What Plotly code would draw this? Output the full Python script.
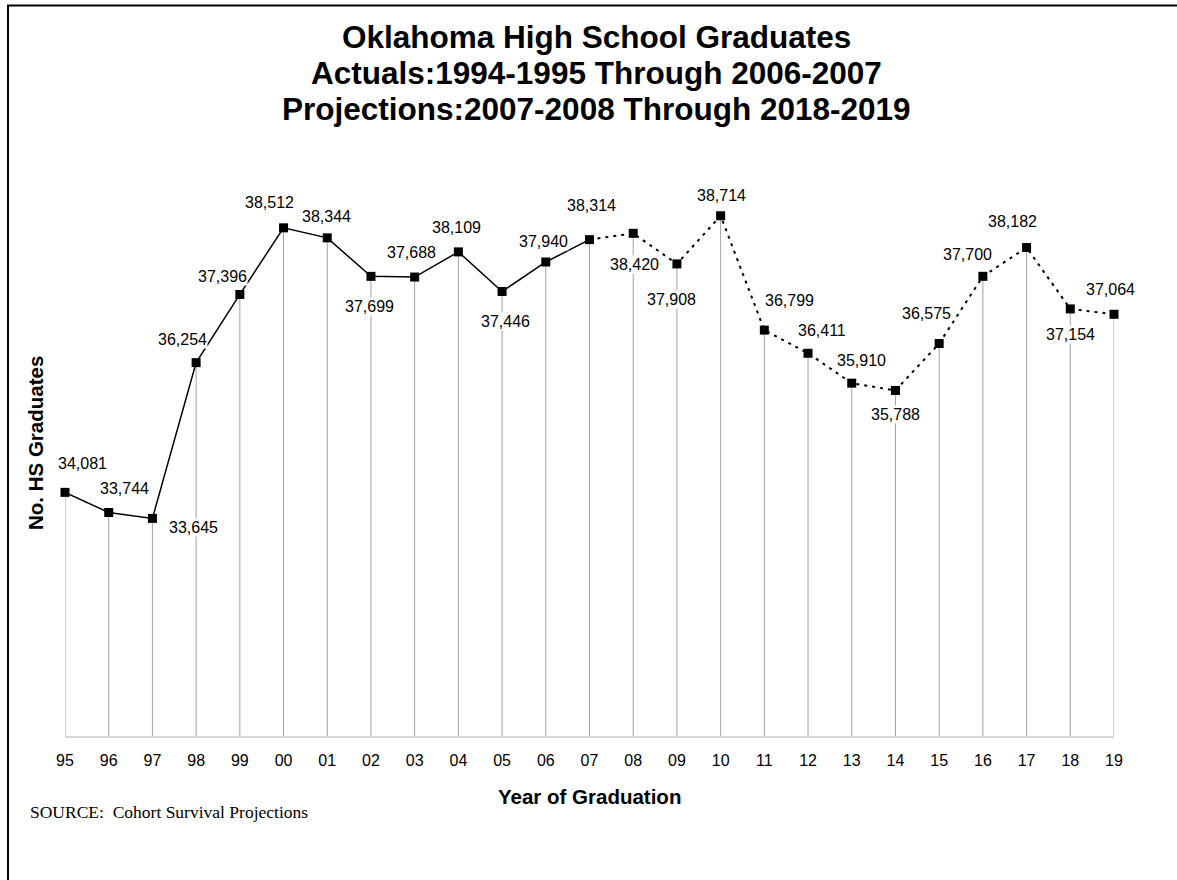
import plotly.graph_objects as go

# Graduating class (two-digit year) and number of high school graduates
years = ["95", "96", "97", "98", "99", "00", "01", "02", "03", "04", "05", "06", "07",
         "08", "09", "10", "11", "12", "13", "14", "15", "16", "17", "18", "19"]
graduates = [34081, 33744, 33645, 36254, 37396, 38512, 38344, 37699, 37688, 38109,
             37446, 37940, 38314, 38420, 37908, 38714, 36799, 36411, 35910, 35788,
             36575, 37700, 38182, 37154, 37064]
last_actual = "07"  # actuals run through 2006-2007, projections after

# Pixel offsets of each value label from its point (dx, dy)
label_offsets = [(17, 29), (16, 24), (41, -9), (-14, 23), (-17, 18), (-14, 25),
                 (-1, 21), (-1, -30), (-3, 25), (-2, 24), (3, -30), (-2, 20),
                 (2, 34), (1, -31), (-5, -36), (1, 20), (25, 30), (14, 23),
                 (10, 23), (0, -24), (-13, 30), (-15, 22), (-14, 26), (0, -26),
                 (-4, 25)]

Y_MIN, Y_MAX = 30000, 40000
split = years.index(last_actual)

# plot area in pixels
L, R, T, B = 65, 63, 139, 144
W, H = 1177, 880
pw, ph = W - L - R, H - T - B


def px_x(p):
    return (p - L) / pw


def px_y(p):
    return (H - B - p) / ph


fig = go.Figure()

# drop lines from the axis up to each point
dx, dy = [], []
for yr, v in zip(years, graduates):
    dx += [yr, yr, None]
    dy += [Y_MIN, v, None]
fig.add_trace(go.Scatter(x=dx, y=dy, mode="lines",
                         line=dict(color="#a3a3a3", width=1),
                         hoverinfo="skip", showlegend=False))

# actuals: solid line
fig.add_trace(go.Scatter(x=years[:split + 1], y=graduates[:split + 1],
                         mode="lines", line=dict(color="black", width=1.5),
                         showlegend=False, cliponaxis=False))
# projections: dotted line
fig.add_trace(go.Scatter(x=years[split:], y=graduates[split:],
                         mode="lines", line=dict(color="black", width=2, dash="3px,5px"),
                         showlegend=False, cliponaxis=False))
# markers
fig.add_trace(go.Scatter(x=years, y=graduates, mode="markers",
                         marker=dict(symbol="square", size=9, color="black"),
                         showlegend=False, cliponaxis=False))

annotations = []
# value labels (category axis: position given by category index)
for i, (v, (ox, oy)) in enumerate(zip(graduates, label_offsets)):
    annotations.append(dict(x=i, y=v, xref="x", yref="y", text=f"{v:,}",
                            showarrow=False, xshift=ox, yshift=oy,
                            font=dict(family="Arial, Liberation Sans", size=16, color="black"),
                            bgcolor="white", borderpad=0))

title_lines = ["Oklahoma High School Graduates",
               "Actuals:1994-1995 Through 2006-2007",
               "Projections:2007-2008 Through 2018-2019"]
for line, yc in zip(title_lines, [37, 73, 109]):
    annotations.append(dict(x=px_x(596), y=px_y(yc), xref="paper", yref="paper",
                            text=f"<b>{line}</b>", showarrow=False,
                            xanchor="center", yanchor="middle",
                            font=dict(family="Arial, Liberation Sans", size=31.5, color="black")))

annotations.append(dict(x=px_x(589), y=px_y(796), xref="paper", yref="paper",
                        text="<b>Year of Graduation</b>", showarrow=False,
                        xanchor="center", yanchor="middle",
                        font=dict(family="Arial, Liberation Sans", size=20.5, color="black")))
annotations.append(dict(x=px_x(35), y=px_y(443), xref="paper", yref="paper",
                        text="<b>No. HS Graduates</b>", showarrow=False, textangle=-90,
                        xanchor="center", yanchor="middle",
                        font=dict(family="Arial, Liberation Sans", size=20.5, color="black")))
annotations.append(dict(x=px_x(28), y=px_y(812), xref="paper", yref="paper",
                        text="SOURCE:  Cohort Survival Projections", showarrow=False,
                        xanchor="left", yanchor="middle",
                        font=dict(family="Liberation Serif, Times New Roman", size=17.5, color="black")))

fig.update_layout(
    width=W, height=H,
    margin=dict(l=L, r=R, t=T, b=B),
    paper_bgcolor="white", plot_bgcolor="white",
    annotations=annotations,
    shapes=[dict(type="rect", xref="paper", yref="paper",
                 x0=px_x(8), x1=px_x(1190), y0=px_y(895), y1=px_y(5.5),
                 line=dict(color="black", width=2), layer="below")],
    xaxis=dict(type="category", range=[0, len(years) - 1], showgrid=False,
               showline=True, linecolor="#d6d6d6", linewidth=2,
               ticks="outside", ticklen=9, tickcolor="rgba(0,0,0,0)",
               tickfont=dict(family="Arial, Liberation Sans", size=16, color="black"),
               zeroline=False, fixedrange=True),
    yaxis=dict(range=[Y_MIN, Y_MAX], showgrid=False, showline=False, zeroline=False,
               showticklabels=False, ticks="", fixedrange=True),
)

fig.write_html("out.html")
